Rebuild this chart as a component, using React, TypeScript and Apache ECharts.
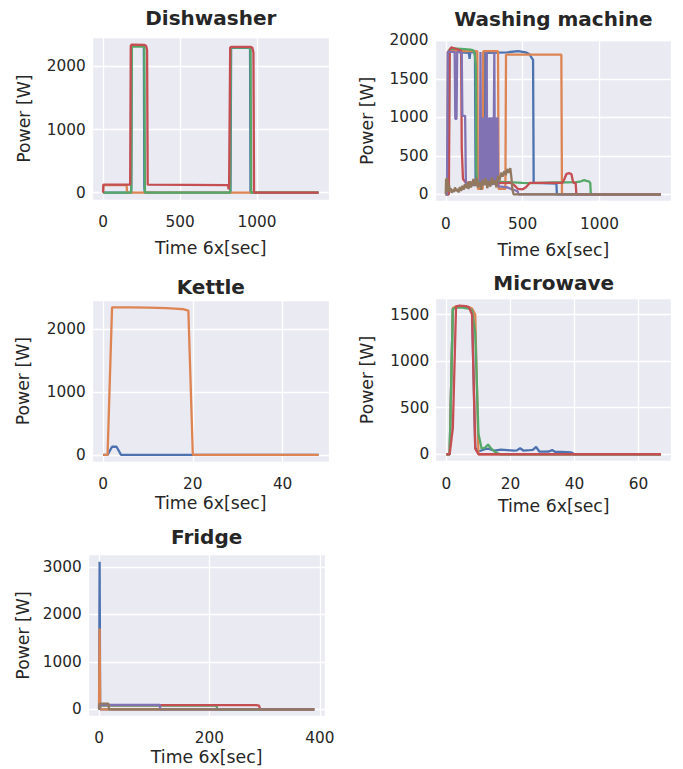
import React, { useEffect, useRef } from "react";
import * as echarts from "echarts";

const COLORS = ["#4C72B0", "#DD8452", "#55A868", "#C44E52", "#8172B3", "#937860"];
const TEXT = "#262626";
const FONT = "DejaVu Sans";

const titles = ["Dishwasher", "Washing machine", "Kettle", "Microwave", "Fridge"];
const xName = "Time 6x[sec]";
const yName = "Power [W]";
const xIntervals = [500, 500, 20, 20, 200];
const yIntervals = [1000, 500, 1000, 500, 1000];

// Dishwasher
const dwBlueX = [0, 183, 186, 265, 268, 271, 828, 832, 955, 958, 1400];
const dwBlueY = [0, 0, 2330, 2325, 90, 0, 0, 2300, 2295, 0, 0];
const dwOrangeX = [0, 1, 153, 156, 1400];
const dwOrangeY = [0, 120, 120, 0, 0];
const dwGreenX = [0, 183, 187, 268, 272, 826, 830, 958, 962, 1400];
const dwGreenY = [0, 0, 2320, 2315, 0, 0, 2300, 2300, 0, 0];
const dwRedX = [0, 2, 176, 180, 185, 270, 280, 286, 290, 812, 816, 819, 826, 835, 960, 970, 977, 981, 1400];
const dwRedY = [0, 125, 125, 2330, 2345, 2340, 2325, 2260, 125, 120, 50, 130, 2300, 2312, 2310, 2295, 2220, 0, 0];

// Washing machine
const wmBlueX = [0, 15, 20, 60, 100, 150, 155, 160, 190, 194, 240, 246, 255, 258, 262, 266, 400, 470, 520, 545, 560, 568, 572, 720, 723, 1400];
const wmBlueY = [0, 0, 1870, 1860, 1845, 1840, 1760, 1850, 1840, 150, 150, 1840, 1840, 1000, 1000, 1840, 1845, 1860, 1845, 1820, 1770, 1750, 150, 140, 0, 0];
const wmOrangeX = [0, 10, 14, 205, 209, 240, 244, 340, 344, 388, 392, 752, 756, 1400];
const wmOrangeY = [0, 0, 1860, 1860, 70, 70, 1860, 1860, 70, 70, 1815, 1815, 0, 0];
const wmGreenX = [0, 18, 24, 40, 100, 160, 181, 190, 196, 199, 203, 230, 300, 400, 500, 560, 620, 700, 780, 850, 880, 900, 915, 930, 940, 944, 1400];
const wmGreenY = [0, 0, 1880, 1895, 1890, 1880, 1870, 1800, 1650, 300, 180, 175, 165, 160, 150, 145, 150, 155, 155, 160, 170, 185, 175, 170, 150, 0, 0];
const wmRedX = [0, 20, 26, 36, 60, 90, 100, 104, 112, 130, 200, 300, 420, 445, 470, 500, 520, 548, 650, 760, 772, 785, 805, 818, 826, 832, 845, 850, 1400];
const wmRedY = [0, 0, 1880, 1910, 1895, 1875, 1860, 600, 200, 155, 150, 145, 150, 120, 70, 65, 90, 150, 150, 150, 200, 265, 275, 260, 180, 150, 150, 0, 0];
const wmPurpleX = [0, 8, 13, 58, 62, 70, 74, 104, 108, 126, 131, 135, 222, 226, 230, 236, 240, 246, 250, 256, 260, 266, 270, 276, 280, 286, 290, 296, 300, 306, 310, 316, 320, 326, 330, 336, 340, 346, 360, 400, 440, 468, 472, 1400];
const wmPurpleY = [0, 0, 1850, 1850, 980, 980, 1850, 1840, 1020, 1020, 130, 120, 120, 1850, 120, 1000, 120, 1000, 120, 1000, 120, 1850, 120, 1000, 120, 1000, 120, 1000, 120, 1000, 120, 1850, 120, 1000, 120, 1000, 120, 100, 100, 90, 60, 40, 0, 0];
const wmBrownX = [0, 2, 4, 7, 10, 14, 18, 22, 27, 32, 38, 45, 52, 60, 68, 76, 84, 92, 100, 108, 116, 124, 132, 140, 148, 156, 164, 172, 180, 190, 200, 210, 220, 230, 240, 250, 260, 270, 280, 290, 300, 310, 320, 330, 340, 350, 360, 370, 380, 390, 400, 410, 420, 428, 434, 441, 1400];
const wmBrownY = [0, 200, 40, 215, 60, 190, 30, 120, 50, 80, 20, 60, 30, 90, 40, 70, 25, 95, 45, 110, 60, 130, 80, 150, 70, 170, 90, 140, 200, 110, 215, 90, 160, 60, 190, 120, 210, 80, 170, 100, 220, 130, 180, 90, 240, 180, 280, 230, 300, 250, 330, 280, 340, 200, 60, 0, 0];

// Kettle
const ktBlueX = [0, 1, 2, 3, 4, 48];
const ktBlueY = [0, 0, 130, 130, 0, 0];
const ktOrangeX = [0, 1, 2, 6, 10, 14, 16, 18, 19, 20, 48];
const ktOrangeY = [0, 0, 2340, 2340, 2335, 2328, 2320, 2310, 2290, 0, 0];

// Microwave
const mwBlueX = [0, 1, 2, 3, 5, 7, 8, 9, 10, 12, 13, 15, 17, 19, 21, 22, 23, 24, 26, 27, 28, 29, 31, 32, 33, 34, 36, 39, 40, 67];
const mwBlueY = [0, 0, 1560, 1580, 1590, 1575, 1550, 70, 30, 55, 60, 40, 50, 45, 40, 42, 65, 40, 45, 48, 80, 30, 28, 30, 45, 25, 25, 20, 0, 0];
const mwOrangeX = [0, 1, 2, 3, 5, 7, 8, 9, 10, 67];
const mwOrangeY = [0, 0, 1570, 1590, 1590, 1580, 1565, 1500, 0, 0];
const mwGreenX = [0, 1, 2, 3, 5, 7, 8, 9, 10, 11, 12, 13, 14, 15, 16, 17, 67];
const mwGreenY = [0, 0, 1560, 1575, 1575, 1565, 1545, 1300, 220, 60, 70, 105, 60, 30, 10, 0, 0];
const mwRedX = [0, 1, 2, 3, 4, 6, 7, 8, 9, 10, 67];
const mwRedY = [0, 0, 280, 1585, 1595, 1590, 1580, 1500, 60, 0, 0];

// Fridge
const frBlueX = [0, 1, 2, 390];
const frBlueY = [0, 3110, 0, 0];
const frOrangeX = [0, 1, 2, 390];
const frOrangeY = [0, 1700, 0, 0];
const frGreenX = [0, 1, 213, 214, 390];
const frGreenY = [0, 80, 80, 0, 0];
const frRedX = [0, 1, 285, 290, 292, 390];
const frRedY = [0, 90, 90, 80, 0, 0];
const frPurpleX = [0, 1, 110, 111, 390];
const frPurpleY = [0, 95, 95, 0, 0];
const frBrownX = [0, 1, 17, 18, 390];
const frBrownY = [0, 120, 120, 0, 0];

const panelData: [number[], number[]][][] = [
  [[dwBlueX, dwBlueY], [dwOrangeX, dwOrangeY], [dwGreenX, dwGreenY], [dwRedX, dwRedY]],
  [[wmBlueX, wmBlueY], [wmOrangeX, wmOrangeY], [wmGreenX, wmGreenY], [wmRedX, wmRedY], [wmPurpleX, wmPurpleY], [wmBrownX, wmBrownY]],
  [[ktBlueX, ktBlueY], [ktOrangeX, ktOrangeY]],
  [[mwBlueX, mwBlueY], [mwOrangeX, mwOrangeY], [mwGreenX, mwGreenY], [mwRedX, mwRedY]],
  [[frBlueX, frBlueY], [frOrangeX, frOrangeY], [frGreenX, frGreenY], [frRedX, frRedY], [frPurpleX, frPurpleY], [frBrownX, frBrownY]],
];

const layouts = [
  { left: 92.3, top: 37.3, width: 237, height: 162.7, titleTop: 8, xNameGap: 39.5, yNameGap: 59.5, tickMargin: 14.5 },
  { left: 435, top: 40, width: 236.7, height: 161.7, titleTop: 8.5, xNameGap: 39.8, yNameGap: 59.8, tickMargin: 14.5 },
  { left: 92.3, top: 300, width: 237, height: 162.3, titleTop: 277.2, xNameGap: 32.5, yNameGap: 60.5, tickMargin: 14.5 },
  { left: 435.7, top: 298.3, width: 236, height: 163.4, titleTop: 272.5, xNameGap: 35.5, yNameGap: 60.5, tickMargin: 14.5 },
  { left: 88.3, top: 554.3, width: 236.7, height: 162.4, titleTop: 526.8, xNameGap: 31.5, yNameGap: 56.5, tickMargin: 14 },
];

function limits(vals: number[]): [number, number] {
  const lo = Math.min(...vals);
  const hi = Math.max(...vals);
  const m = (hi - lo) * 0.05;
  return [lo - m, hi + m];
}

function buildOption() {
  const grid: any[] = [];
  const xAxis: any[] = [];
  const yAxis: any[] = [];
  const title: any[] = [];
  const series: any[] = [];
  panelData.forEach((ser, i) => {
    const L = layouts[i];
    grid.push({
      left: L.left, top: L.top, width: L.width, height: L.height,
      show: true, backgroundColor: "#EAEAF2", borderWidth: 0,
    });
    const [x0, x1] = limits(ser.flatMap((s) => s[0]));
    const [y0, y1] = limits(ser.flatMap((s) => s[1]));
    const common = {
      gridIndex: i,
      type: "value",
      axisLine: { show: false },
      axisTick: { show: false },
      splitLine: { show: true, lineStyle: { color: "#FFFFFF", width: 1.3 } },
      nameLocation: "middle",
      nameTextStyle: { fontSize: 17.3, color: TEXT, fontFamily: FONT },
    };
    xAxis.push({
      ...common,
      min: x0, max: x1,
      minInterval: xIntervals[i], maxInterval: xIntervals[i],
      name: xName, nameGap: L.xNameGap,
      axisLabel: {
        showMinLabel: false, showMaxLabel: false, margin: L.tickMargin,
        fontSize: 15.3, color: TEXT, fontFamily: FONT,
        formatter: (v: number) => String(v),
      },
    });
    yAxis.push({
      ...common,
      min: y0, max: y1,
      minInterval: yIntervals[i], maxInterval: yIntervals[i],
      name: yName, nameGap: L.yNameGap, nameRotate: 90,
      axisLabel: {
        showMinLabel: false, showMaxLabel: false, margin: 6.5,
        fontSize: 15.3, color: TEXT, fontFamily: FONT,
        formatter: (v: number) => String(v),
      },
    });
    title.push({
      text: titles[i],
      left: L.left + L.width / 2,
      top: L.titleTop,
      padding: 0,
      textAlign: "center",
      textStyle: { fontSize: 20, fontWeight: "bold", color: TEXT, fontFamily: FONT },
    });
    ser.forEach(([xs, ys], j) => {
      series.push({
        type: "line",
        xAxisIndex: i,
        yAxisIndex: i,
        data: xs.map((x, k) => [x, ys[k]]),
        showSymbol: false,
        symbol: "none",
        silent: true,
        lineStyle: { width: 2.3, color: COLORS[j] },
        itemStyle: { color: COLORS[j] },
      });
    });
  });
  return {
    animation: false,
    backgroundColor: "#FFFFFF",
    textStyle: { fontFamily: FONT },
    title, grid, xAxis, yAxis, series,
  };
}

export default function App() {
  const ref = useRef<HTMLDivElement>(null);
  useEffect(() => {
    if (!ref.current) return;
    const chart = echarts.init(ref.current, null, { renderer: "svg" });
    chart.setOption(buildOption() as any);
    return () => chart.dispose();
  }, []);
  return (
    <div
      ref={ref}
      style={{ position: "fixed", left: 0, top: 0, width: 683, height: 769, background: "#fff" }}
    />
  );
}
